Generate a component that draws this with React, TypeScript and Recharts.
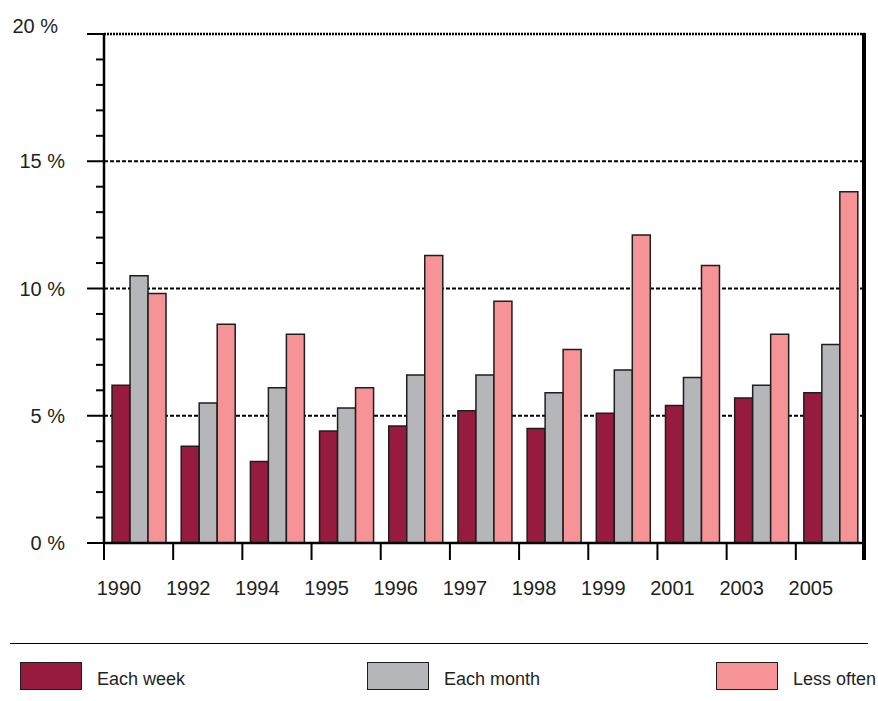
import React from 'react'
import { BarChart, Bar, XAxis, YAxis, CartesianGrid, ReferenceLine } from 'recharts'

const categories = ['1990', '1992', '1994', '1995', '1996', '1997', '1998', '1999', '2001', '2003', '2005']
const eachWeek = [6.2, 3.8, 3.2, 4.4, 4.6, 5.2, 4.5, 5.1, 5.4, 5.7, 5.9]
const eachMonth = [10.5, 5.5, 6.1, 5.3, 6.6, 6.6, 5.9, 6.8, 6.5, 6.2, 7.8]
const lessOften = [9.8, 8.6, 8.2, 6.1, 11.3, 9.5, 7.6, 12.1, 10.9, 8.2, 13.8]
const seriesNames = ['Each week', 'Each month', 'Less often']
const seriesKeys = ['week', 'month', 'less']
const colors = ['#961b3f', '#b5b6ba', '#f69397']
const yTicks = [0, 1, 2, 3, 4, 5, 6, 7, 8, 9, 10, 11, 12, 13, 14, 15, 16, 17, 18, 19, 20]
const majorTicks = [0, 5, 10, 15, 20]

const data = categories.map((year, i) => ({
    year,
    week: eachWeek[i],
    month: eachMonth[i],
    less: lessOften[i],
}))

const W = 878
const H = 701
const PLOT_LEFT = 104
const PLOT_RIGHT = 865
const PLOT_TOP = 34
const PLOT_BOTTOM = 543
const BAND = (PLOT_RIGHT - PLOT_LEFT) / categories.length
const FONT = '"Liberation Sans", Arial, sans-serif'
const INK = '#231f20'

const YTick = (props: any) => {
    const { y, payload } = props
    const v = payload.value
    const major = majorTicks.includes(v)
    const top = v === 20
    return (
        <g>
            <line x1={PLOT_LEFT - (major ? 17 : 8)} x2={PLOT_LEFT} y1={y} y2={y} stroke="#000" strokeWidth={2} />
            {major && (
                <text
                    x={top ? 58 : 65}
                    y={y + 7 + (top ? -8 : 0)}
                    textAnchor="end"
                    fontFamily={FONT}
                    fontSize={20}
                    fill={INK}
                >
                    {v} %
                </text>
            )}
        </g>
    )
}

const XTick = (props: any) => {
    const { x, payload } = props
    const left = x - BAND / 2
    return (
        <g>
            <line x1={left} x2={left} y1={PLOT_BOTTOM} y2={PLOT_BOTTOM + 17} stroke="#000" strokeWidth={2} />
            <text x={left + 15} y={PLOT_BOTTOM + 52} textAnchor="middle" fontFamily={FONT} fontSize={20} fill={INK}>
                {payload.value}
            </text>
        </g>
    )
}

const legendX = [20, 367, 716]

const App = () => {
    return (
        <div style={{ position: 'absolute', left: 0, top: 0, width: W, height: H, background: '#fff' }}>
            <BarChart
                width={W}
                height={H}
                data={data}
                margin={{ top: PLOT_TOP, right: W - PLOT_RIGHT, bottom: 98, left: PLOT_LEFT - 60 }}
                barCategoryGap="11.6%"
                barGap={0}
            >
                <CartesianGrid
                    vertical={false}
                    horizontalValues={[5, 10, 15]}
                    stroke="#000"
                    strokeWidth={2}
                    strokeDasharray="4 2"
                />
                <ReferenceLine y={20} stroke="#000" strokeWidth={2.5} strokeDasharray="2 1" />
                <XAxis
                    dataKey="year"
                    height={60}
                    tickLine={false}
                    tickSize={0}
                    axisLine={{ stroke: '#000', strokeWidth: 2.5 }}
                    tick={<XTick />}
                    interval={0}
                />
                <YAxis
                    width={60}
                    domain={[0, 20]}
                    ticks={yTicks}
                    interval={0}
                    tickLine={false}
                    tickSize={0}
                    axisLine={{ stroke: '#000', strokeWidth: 2.5 }}
                    tick={<YTick />}
                />
                {seriesKeys.map((k, i) => (
                    <Bar
                        key={k}
                        dataKey={k}
                        name={seriesNames[i]}
                        fill={colors[i]}
                        stroke="#1e1e1e"
                        strokeWidth={1.5}
                        isAnimationActive={false}
                    />
                ))}
            </BarChart>
            {/* right frame line, running down into its tick below the axis */}
            <div
                style={{
                    position: 'absolute',
                    left: 862,
                    top: 33,
                    width: 4,
                    height: 527,
                    background: '#000',
                    zIndex: 10,
                }}
            />
            <div style={{ position: 'absolute', left: 10, top: 643, width: 858, height: 0, borderTop: '1.5px solid #000' }} />
            {seriesNames.map((name, i) => (
                <div key={name}>
                    <div
                        style={{
                            position: 'absolute',
                            left: legendX[i],
                            top: 662,
                            width: 60,
                            height: 26,
                            background: colors[i],
                            border: '1.5px solid #1e1e1e',
                        }}
                    />
                    <div
                        style={{
                            position: 'absolute',
                            left: legendX[i] + 77,
                            top: 668,
                            fontFamily: FONT,
                            fontSize: 18,
                            lineHeight: '22px',
                            color: INK,
                            whiteSpace: 'nowrap',
                        }}
                    >
                        {name}
                    </div>
                </div>
            ))}
        </div>
    )
}

export default App
